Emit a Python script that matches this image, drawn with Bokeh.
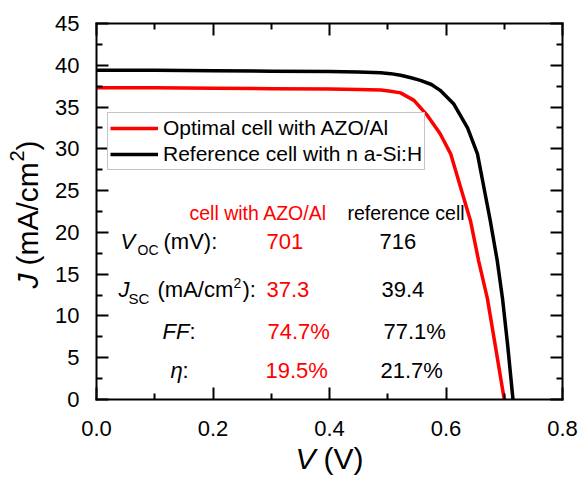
import math
from bokeh.plotting import figure
from bokeh.models import Range1d, LinearAxis, FixedTicker, Label, CustomJSTickFormatter
from bokeh.embed import file_html
from bokeh.resources import INLINE

# ---------------- data ----------------
series_names = ["Optimal cell with AZO/Al", "Reference cell with n a-Si:H"]
series_colors = ["#ff0000", "#000000"]

v_azo = [0.0, 0.1, 0.2, 0.3, 0.4, 0.45, 0.488, 0.505, 0.522, 0.545, 0.568, 0.59,
         0.608, 0.625, 0.642, 0.656, 0.671, 0.685, 0.700]
j_azo = [37.3, 37.3, 37.25, 37.2, 37.15, 37.1, 37.05, 36.9, 36.7, 35.8, 34.0, 31.8,
         29.4, 25.4, 21.4, 16.6, 12.1, 6.3, 0.0]

v_ref = [0.0, 0.1, 0.2, 0.3, 0.4, 0.45, 0.488, 0.505, 0.522, 0.54, 0.556, 0.575, 0.59,
         0.613, 0.637, 0.654, 0.665, 0.676, 0.688, 0.697, 0.706, 0.715]
j_ref = [39.4, 39.4, 39.35, 39.3, 39.25, 39.2, 39.1, 39.0, 38.8, 38.5, 38.2, 37.7, 37.0,
         35.4, 32.5, 29.4, 25.4, 21.4, 16.6, 12.1, 6.4, 0.0]

x_lim = (0.0, 0.8)
y_lim = (0.0, 45.0)
x_ticks = [0.0, 0.2, 0.4, 0.6, 0.8]
x_tick_labels = ["0.0", "0.2", "0.4", "0.6", "0.8"]
x_minor = [0.1, 0.3, 0.5, 0.7]
y_ticks = [0, 5, 10, 15, 20, 25, 30, 35, 40, 45]
y_tick_labels = ["0", "5", "10", "15", "20", "25", "30", "35", "40", "45"]
y_minor = [2.5, 7.5, 12.5, 17.5, 22.5, 27.5, 32.5, 37.5, 42.5]

column_headers = ["cell with AZO/Al", "reference cell"]
voc_mV = [701, 716]
jsc_mAcm2 = [37.3, 39.4]
ff_pct = [74.7, 77.1]
eta_pct = [19.5, 21.7]

FONT = "Liberation Sans"

# ---------------- layout geometry (pixels) ----------------
W, H = 578, 477
PX_L, PX_R, PX_T, PX_B = 96, 562, 23, 399
xs = (PX_R - PX_L) / (x_lim[1] - x_lim[0])
ys = (PX_B - PX_T) / (y_lim[1] - y_lim[0])
x_range = Range1d(x_lim[0] - PX_L / xs, x_lim[1] + (W - PX_R) / xs)
y_range = Range1d(y_lim[0] - (H - PX_B) / ys, y_lim[1] + PX_T / ys)

p = figure(width=W, height=H, output_backend="svg", toolbar_location=None,
           x_range=x_range, y_range=y_range,
           x_axis_location=None, y_axis_location=None,
           min_border=0, min_border_left=0, min_border_right=0,
           min_border_top=0, min_border_bottom=0)
p.background_fill_color = "white"
p.border_fill_color = "white"
p.outline_line_color = None
for g in list(p.xgrid) + list(p.ygrid):
    g.visible = False


def make_axis(place, loc, bounds, ticks, minor, labels, show_labels, standoff=0):
    ax = LinearAxis(fixed_location=loc, bounds=bounds)
    ax.ticker = FixedTicker(ticks=ticks, minor_ticks=minor)
    ax.axis_line_color = "black"
    ax.axis_line_width = 2
    ax.axis_line_cap = "square"
    ax.major_tick_line_color = "black"
    ax.minor_tick_line_color = "black"
    ax.major_tick_line_width = 2
    ax.minor_tick_line_width = 2
    ax.major_tick_in = 12
    ax.major_tick_out = 0
    ax.minor_tick_in = 6
    ax.minor_tick_out = 0
    if show_labels:
        ax.major_label_overrides = {t: l for t, l in zip(ticks, labels)}
        ax.major_label_text_font = FONT
        ax.major_label_text_font_size = "22px"
        ax.major_label_text_color = "black"
        ax.major_label_standoff = standoff
    else:
        ax.formatter = CustomJSTickFormatter(code="return ''")
        ax.major_label_text_font_size = "0px"
        ax.major_label_standoff = 0
    p.add_layout(ax, place)
    return ax


make_axis("below", y_lim[0], x_lim, x_ticks, x_minor, x_tick_labels, True, 21)
make_axis("left", x_lim[0], y_lim, y_ticks, y_minor, y_tick_labels, True, 17)
make_axis("above", y_lim[1], x_lim, x_ticks, x_minor, x_tick_labels, False)
make_axis("right", x_lim[1], y_lim, y_ticks, y_minor, y_tick_labels, False)

# ---------------- curves ----------------
p.line(v_azo, j_azo, line_color=series_colors[0], line_width=3.5, legend_label=series_names[0])
p.line(v_ref, j_ref, line_color=series_colors[1], line_width=3.5, legend_label=series_names[1])

lg = p.legend[0]
lg.location = (107, H - 170)
lg.label_text_font = FONT
lg.label_text_font_size = "21px"
lg.label_text_color = "black"
lg.glyph_width = 48
lg.glyph_height = 26
lg.label_height = 26
lg.label_standoff = 5
lg.spacing = 0
lg.padding = 2
lg.margin = 0
lg.border_line_color = "#8c8c8c"
lg.border_line_width = 1
lg.background_fill_color = "white"
lg.background_fill_alpha = 1.0

# ---------------- text annotations ----------------
# (px, py) = wanted left end of the baseline, in pixels from the top-left corner.
K = 0.36  # observed vertical offset of the rendered baseline, as a fraction of font size


def lab(text, px, py, size, color="black", style="normal", rotated=False):
    if rotated:
        x, y, ang = px - K * size, H - py, math.pi / 2
    else:
        x, y, ang = px, H - (py - K * size), 0.0
    p.add_layout(Label(x=x, y=y, x_units="screen", y_units="screen", text=text,
                       text_font=FONT, text_font_size=f"{size}px", text_color=color,
                       text_font_style=style, text_align="left",
                       text_baseline="alphabetic", angle=ang))


RED = series_colors[0]
# column headers
lab(column_headers[0], 189, 220, 19.5, RED)
lab(column_headers[1], 347, 220, 19.5)
# Voc row
lab("V", 120, 249, 22, style="italic")
lab("OC", 137, 255, 14)
lab("(mV):", 163, 249, 22)
lab(f"{voc_mV[0]}", 266, 249, 22, RED)
lab(f"{voc_mV[1]}", 379, 249, 22)
# Jsc row
lab("J", 118, 297, 22, style="italic")
lab("SC", 128, 303, 15)
lab("(mA/cm", 157, 297, 22)
lab("2", 233, 288, 14)
lab("):", 242, 297, 22)
lab(f"{jsc_mAcm2[0]:.1f}", 266, 297, 22, RED)
lab(f"{jsc_mAcm2[1]:.1f}", 381, 297, 22)
# FF row
lab("FF", 162, 339, 22, style="italic")
lab(":", 189, 339, 22)
lab(f"{ff_pct[0]:.1f}%", 267, 339, 22, RED)
lab(f"{ff_pct[1]:.1f}%", 383, 339, 22)
# eta row
lab("\u03b7", 170, 378, 22, style="italic")
lab(":", 182, 378, 22)
lab(f"{eta_pct[0]:.1f}%", 265, 378, 22, RED)
lab(f"{eta_pct[1]:.1f}%", 380, 378, 22)

# axis titles
lab("V", 295, 469, 30, style="italic")
lab("(V)", 323, 469, 30)
lab("J", 38, 288, 30, style="italic", rotated=True)
lab("(mA/cm", 38, 265, 30, rotated=True)
lab("2", 24, 161, 20, rotated=True)
lab(")", 38, 150, 30, rotated=True)

open("out.html", "w").write(file_html(p, INLINE))
